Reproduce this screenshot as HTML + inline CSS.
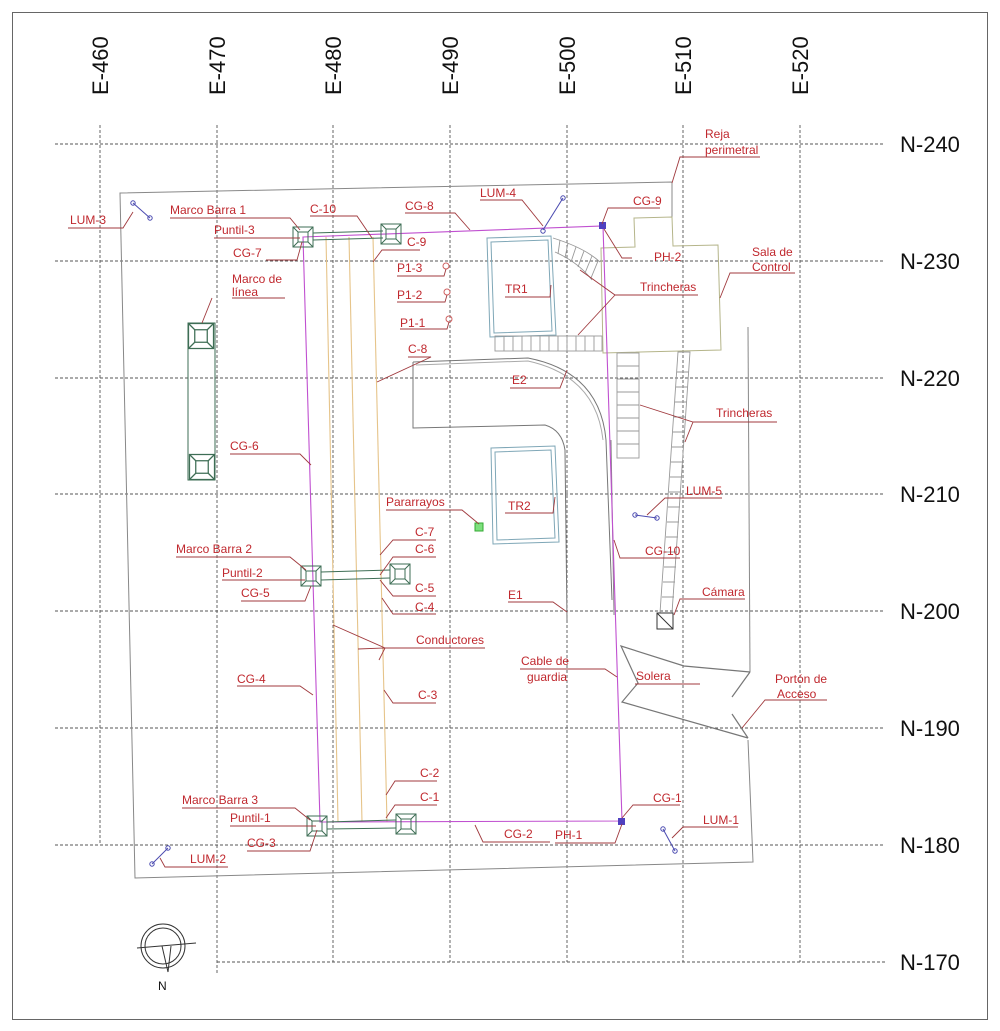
<!DOCTYPE html>
<html><head><meta charset="utf-8"><style>
html,body{margin:0;padding:0;background:#fff}
svg{display:block}
text{font-family:"Liberation Sans",sans-serif}
.l{fill:#c0282e;font-size:12px}
.ld{stroke:#a03a3e;stroke-width:0.9;fill:none}
.g{stroke:#555;stroke-width:0.9;stroke-dasharray:3,2;fill:none}
.ax{font-size:22px;fill:#111}
</style></head><body>
<svg width="1000" height="1031" viewBox="0 0 1000 1031" xmlns="http://www.w3.org/2000/svg">
<defs>
<g id="mb"><rect x="-10" y="-10" width="20" height="20"/><rect x="-5" y="-5" width="10" height="10"/><path d="M-10,-10L-5,-5M10,-10L5,-5M-10,10L-5,5M10,10L5,5"/></g>
</defs>
<rect x="12.5" y="12.5" width="975" height="1007" fill="none" stroke="#666" stroke-width="1"/>
<g class="g">
<line x1="100" y1="125" x2="100" y2="845"/>
<line x1="217" y1="125" x2="217" y2="975"/>
<line x1="333" y1="125" x2="333" y2="962"/>
<line x1="450" y1="125" x2="450" y2="962"/>
<line x1="567" y1="125" x2="567" y2="962"/>
<line x1="683" y1="125" x2="683" y2="962"/>
<line x1="800" y1="125" x2="800" y2="962"/>
<line x1="55" y1="144" x2="885" y2="144"/>
<line x1="55" y1="261" x2="885" y2="261"/>
<line x1="55" y1="378" x2="885" y2="378"/>
<line x1="55" y1="494" x2="885" y2="494"/>
<line x1="55" y1="611" x2="885" y2="611"/>
<line x1="55" y1="728" x2="885" y2="728"/>
<line x1="55" y1="845" x2="885" y2="845"/>
<line x1="217" y1="962" x2="885" y2="962"/>
</g>
<g class="ax">
<text transform="translate(108,95) rotate(-90)">E-460</text>
<text transform="translate(225,95) rotate(-90)">E-470</text>
<text transform="translate(341,95) rotate(-90)">E-480</text>
<text transform="translate(458,95) rotate(-90)">E-490</text>
<text transform="translate(575,95) rotate(-90)">E-500</text>
<text transform="translate(691,95) rotate(-90)">E-510</text>
<text transform="translate(808,95) rotate(-90)">E-520</text>
<text x="900" y="152">N-240</text>
<text x="900" y="269">N-230</text>
<text x="900" y="386">N-220</text>
<text x="900" y="502">N-210</text>
<text x="900" y="619">N-200</text>
<text x="900" y="736">N-190</text>
<text x="900" y="853">N-180</text>
<text x="900" y="970">N-170</text>
</g>
<g fill="none" stroke="#888" stroke-width="1">
<polyline points="672,217 672,182 120,193 135,878 753,862 748,740"/>
<line x1="748" y1="327" x2="750" y2="672"/>
</g>
<polygon points="634,218 672,217 673,246 718,245 721,350 603,353 601,248 635,247" fill="none" stroke="#b5b58a" stroke-width="1"/>
<g fill="none" stroke="#777" stroke-width="1">
<path d="M413,362 L528,358 Q600,372 606,440 L612,600"/>
<path d="M413,362 L413,428 L545,425 Q562,430 565,450 L567,620"/>
<path d="M416,365 L528,361 Q596,376 603,440" stroke="#aaa"/>
</g>
<g fill="none" stroke="#777" stroke-width="1.2">
<polyline points="750,672 684,666 621,646 638,683 622,702 748,738"/>
<line x1="750" y1="672" x2="732" y2="697"/>
<line x1="732" y1="714" x2="748" y2="738"/>
</g>
<g fill="none" stroke="#7fa7b7" stroke-width="1">
<polygon points="487,238 551,236 556,335 490,337"/><polygon points="491,242 548,240 552,331 494,333"/>
<polygon points="491,448 555,446 559,542 493,544"/><polygon points="495,452 551,450 555,538 497,540"/>
</g>
<g fill="none" stroke="#999" stroke-width="0.9">
<path d="M553,238 Q585,248 600,262 M555,252 Q578,262 592,280"/>
<path d="M560,240 L558,254 M568,243 L565,258 M576,247 L571,262 M584,251 L578,267 M592,256 L585,273 M598,261 L591,278"/>
<rect x="495" y="336" width="107" height="15"/>
<path d="M504,336v15M513,336v15M522,336v15M531,336v15M540,336v15M549,336v15M558,336v15M567,336v15M576,336v15M585,336v15M594,336v15"/>
<rect x="617" y="353" width="22" height="105"/>
<path d="M617,366h22M617,379h22M617,392h22M617,405h22M617,418h22M617,431h22M617,444h22"/>
<polygon points="678,352 690,352 672,613 660,613"/>
<path d="M677,372h12M676,387h12M675,402h12M674,417h12M673,432h12M672,447h12M671,462h12M670,477h12M669,492h12M668,507h12M667,522h12M666,537h12M665,552h12M664,567h12M663,582h12M662,597h12"/>
</g>
<g fill="none" stroke="#333" stroke-width="1"><rect x="657" y="613" width="16" height="16"/><line x1="657" y1="613" x2="673" y2="629"/></g>
<line x1="611" y1="440" x2="614" y2="615" stroke="#888" stroke-width="1"/>
<g stroke="#e6c48a" stroke-width="1.1" fill="none">
<line x1="326" y1="237" x2="338" y2="822"/>
<line x1="349" y1="237" x2="362" y2="822"/>
<line x1="373" y1="237" x2="387" y2="822"/>
</g>
<polygon points="303,237 603,226 622,821 320,822" fill="none" stroke="#c050d0" stroke-width="1.1"/>
<rect x="599" y="222" width="7" height="7" fill="#5040c0"/>
<rect x="618" y="818" width="7" height="7" fill="#5040c0"/>
<g fill="none" stroke="#3e6e55" stroke-width="1">
<line x1="313" y1="233" x2="383" y2="231"/><line x1="313" y1="240" x2="383" y2="238"/>
<line x1="321" y1="572" x2="390" y2="570"/><line x1="321" y1="580" x2="390" y2="578"/>
<line x1="327" y1="822" x2="396" y2="820"/><line x1="327" y1="829" x2="396" y2="828"/>
<use href="#mb" transform="translate(303,237)"/><use href="#mb" transform="translate(391,234)"/>
<use href="#mb" transform="translate(311,576)"/><use href="#mb" transform="translate(400,574)"/>
<use href="#mb" transform="translate(317,826)"/><use href="#mb" transform="translate(406,824)"/>
<rect x="188" y="323" width="27" height="157"/>
<use href="#mb" transform="translate(201,336) scale(1.25)"/><use href="#mb" transform="translate(202,467) scale(1.25)"/>
</g>
<g fill="none" stroke="#d06060" stroke-width="1"><circle cx="446" cy="266" r="3"/><circle cx="447" cy="292" r="3"/><circle cx="449" cy="319" r="3"/></g>
<rect x="475" y="523" width="8" height="8" fill="#7ee07e" stroke="#3a3"/>
<g stroke="#4a4ab0" stroke-width="1" fill="none">
<line x1="133" y1="203" x2="150" y2="218"/><circle cx="133" cy="203" r="2.2"/><circle cx="150" cy="218" r="2.2"/>
<line x1="543" y1="230" x2="563" y2="198"/><circle cx="543" cy="231" r="2.2"/><circle cx="563" cy="198" r="2.2"/>
<line x1="635" y1="515" x2="657" y2="518"/><circle cx="635" cy="515" r="2.2"/><circle cx="657" cy="518" r="2.2"/>
<line x1="152" y1="864" x2="168" y2="848"/><circle cx="152" cy="864" r="2.2"/><circle cx="168" cy="848" r="2.2"/>
<line x1="663" y1="829" x2="675" y2="851"/><circle cx="663" cy="829" r="2.2"/><circle cx="675" cy="851" r="2.2"/>
</g>
<g fill="none" stroke="#333" stroke-width="1">
<circle cx="163" cy="946" r="22"/><circle cx="163" cy="946" r="18"/>
<line x1="137" y1="948" x2="196" y2="943"/><path d="M162,946 L168,972 L171,946"/>
</g>
<text x="158" y="990" style="font-size:12px;fill:#111">N</text>
<g class="ld">
<polyline points="68,228 123,228 133,212"/>
<polyline points="170,218 290,218 300,230"/>
<polyline points="214,238 300,238"/>
<polyline points="266,260 297,260 302,242"/>
<polyline points="310,216 357,216 372,238"/>
<polyline points="420,250 382,250 373,262"/>
<polyline points="405,213 455,213 470,230"/>
<polyline points="480,200 522,200 543,226"/>
<polyline points="397,276 444,276 446,269"/>
<polyline points="397,302 445,302 447,295"/>
<polyline points="400,329 447,329 449,322"/>
<polyline points="232,298 285,298"/><polyline points="212,298 202,323"/>
<polyline points="408,357 431,357 377,382"/>
<polyline points="505,297 550,297 551,285"/>
<polyline points="510,388 560,388 567,370"/>
<polyline points="660,208 608,208 602,224"/>
<polyline points="604,229 622,258 632,258"/>
<polyline points="698,295 615,295 580,270"/><polyline points="615,295 578,335"/>
<polyline points="760,157 680,157 672,183"/>
<polyline points="795,273 730,273 720,298"/>
<polyline points="777,422 693,422 640,405"/><polyline points="693,422 685,442"/>
<polyline points="230,454 300,454 311,465"/>
<polyline points="722,498 665,498 647,515"/>
<polyline points="386,510 462,510 479,524"/>
<polyline points="505,513 553,513 555,497"/>
<polyline points="436,540 393,540 380,555"/>
<polyline points="436,557 393,557 380,575"/>
<polyline points="436,596 393,596 380,580"/>
<polyline points="436,614 393,614 382,598"/>
<polyline points="176,557 290,557 306,570"/>
<polyline points="222,580 305,580"/>
<polyline points="241,601 305,601 311,586"/>
<polyline points="508,602 553,602 567,612"/>
<polyline points="680,558 620,558 614,540"/>
<polyline points="745,599 680,599 674,615"/>
<polyline points="485,648 385,648 333,625"/><polyline points="385,648 358,649"/><polyline points="385,648 379,660"/>
<polyline points="520,669 605,669 617,677"/>
<polyline points="635,684 700,684"/>
<polyline points="827,700 765,700 742,728"/>
<polyline points="237,686 300,686 313,695"/>
<polyline points="436,703 393,703 384,690"/>
<polyline points="437,781 395,781 386,795"/>
<polyline points="437,805 395,805 386,818"/>
<polyline points="182,808 295,808 310,820"/>
<polyline points="230,826 316,826"/>
<polyline points="247,851 310,851 317,830"/>
<polyline points="228,867 165,867 160,858"/>
<polyline points="550,842 483,842 475,825"/>
<polyline points="555,843 615,843 622,824"/>
<polyline points="680,805 633,805 622,818"/>
<polyline points="738,827 683,827 672,838"/>
</g>
<g class="l">
<text x="70" y="224">LUM-3</text>
<text x="170" y="214">Marco Barra 1</text>
<text x="214" y="234">Puntil-3</text>
<text x="233" y="257">CG-7</text>
<text x="310" y="213">C-10</text>
<text x="407" y="246">C-9</text>
<text x="405" y="210">CG-8</text>
<text x="480" y="197">LUM-4</text>
<text x="397" y="272">P1-3</text>
<text x="397" y="299">P1-2</text>
<text x="400" y="327">P1-1</text>
<text x="232" y="283">Marco de</text>
<text x="232" y="296">línea</text>
<text x="408" y="353">C-8</text>
<text x="505" y="293">TR1</text>
<text x="512" y="384">E2</text>
<text x="633" y="205">CG-9</text>
<text x="654" y="261">PH-2</text>
<text x="640" y="291">Trincheras</text>
<text x="705" y="138">Reja</text>
<text x="705" y="154">perimetral</text>
<text x="752" y="256">Sala de</text>
<text x="752" y="271">Control</text>
<text x="716" y="417">Trincheras</text>
<text x="230" y="450">CG-6</text>
<text x="686" y="495">LUM-5</text>
<text x="386" y="506">Pararrayos</text>
<text x="508" y="510">TR2</text>
<text x="415" y="536">C-7</text>
<text x="415" y="553">C-6</text>
<text x="415" y="592">C-5</text>
<text x="415" y="611">C-4</text>
<text x="176" y="553">Marco Barra 2</text>
<text x="222" y="577">Puntil-2</text>
<text x="241" y="597">CG-5</text>
<text x="508" y="599">E1</text>
<text x="645" y="555">CG-10</text>
<text x="702" y="596">Cámara</text>
<text x="416" y="644">Conductores</text>
<text x="521" y="665">Cable de</text>
<text x="527" y="681">guardia</text>
<text x="636" y="680">Solera</text>
<text x="775" y="683">Portón de</text>
<text x="777" y="698">Acceso</text>
<text x="237" y="683">CG-4</text>
<text x="418" y="699">C-3</text>
<text x="420" y="777">C-2</text>
<text x="420" y="801">C-1</text>
<text x="182" y="804">Marco Barra 3</text>
<text x="230" y="822">Puntil-1</text>
<text x="247" y="847">CG-3</text>
<text x="190" y="863">LUM-2</text>
<text x="504" y="838">CG-2</text>
<text x="555" y="839">PH-1</text>
<text x="653" y="802">CG-1</text>
<text x="703" y="824">LUM-1</text>
</g>
</svg>
</body></html>
